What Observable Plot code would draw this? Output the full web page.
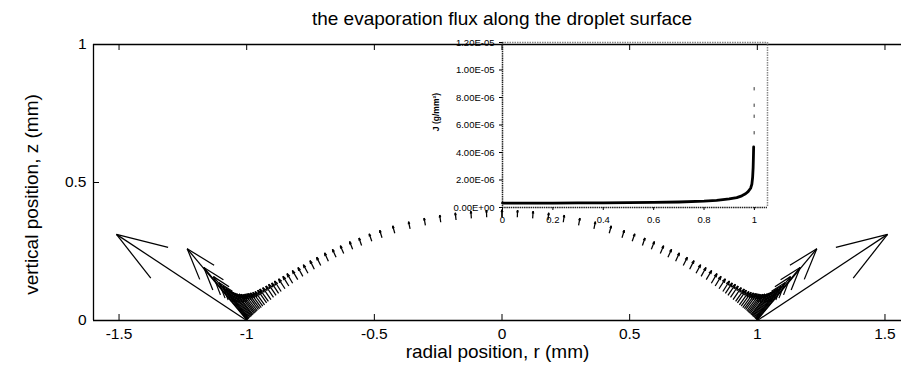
<!DOCTYPE html>
<html><head><meta charset="utf-8">
<script src="https://cdn.jsdelivr.net/npm/d3@7"></script>
<script src="https://cdn.jsdelivr.net/npm/@observablehq/plot@0.6"></script>
<style>
body{margin:0;background:#fff;}
#wrap{position:relative;width:901px;height:370px;overflow:hidden;}
</style></head><body><div id="wrap"></div>
<script>
// ---- text ----
const title = "the evaporation flux along the droplet surface";
const xLabel = "radial position, r (mm)";
const yLabel = "vertical position, z (mm)";
const xTicks = [-1.5, -1, -0.5, 0, 0.5, 1, 1.5];
const yTicks = [0, 0.5, 1];

// ---- flux arrows on the droplet surface, right half (the left half is its mirror image) ----
const arrowR = [0, 0.06, 0.12, 0.18, 0.24, 0.30, 0.36, 0.42, 0.47, 0.51, 0.55, 0.585, 0.62, 0.65, 0.68, 0.71,
  0.735, 0.76, 0.78, 0.80, 0.82, 0.835, 0.85, 0.865, 0.875, 0.885, 0.895, 0.905, 0.915, 0.922, 0.93, 0.937,
  0.943, 0.949, 0.954, 0.959, 0.963, 0.967, 0.971, 0.975, 0.978, 0.981, 0.984, 0.987, 0.99, 0.992, 0.994, 0.996,
  0.998, 0.999, 1.0];
const arrowZ = [0.375, 0.374, 0.370, 0.364, 0.356, 0.345, 0.332, 0.316, 0.300, 0.287, 0.272, 0.258, 0.243, 0.229, 0.215, 0.199,
  0.186, 0.171, 0.160, 0.148, 0.135, 0.125, 0.115, 0.105, 0.098, 0.091, 0.084, 0.076, 0.069, 0.064, 0.057, 0.052,
  0.047, 0.043, 0.039, 0.035, 0.031, 0.028, 0.025, 0.021, 0.019, 0.016, 0.014, 0.011, 0.009, 0.007, 0.005, 0.003,
  0.002, 0.001, 0.000];
const arrowU = [0, 0.001, 0.002, 0.003, 0.004, 0.005, 0.006, 0.008, 0.009, 0.010, 0.010, 0.012, 0.013, 0.014, 0.015, 0.016,
  0.017, 0.018, 0.019, 0.021, 0.022, 0.023, 0.025, 0.026, 0.027, 0.029, 0.030, 0.032, 0.034, 0.035, 0.037, 0.039,
  0.042, 0.044, 0.046, 0.049, 0.052, 0.055, 0.059, 0.063, 0.067, 0.072, 0.077, 0.083, 0.091, 0.101, 0.114, 0.134,
  0.170, 0.234, 0.510];
const arrowV = [0.026, 0.026, 0.026, 0.026, 0.026, 0.026, 0.026, 0.027, 0.027, 0.027, 0.027, 0.028, 0.028, 0.029, 0.030, 0.030,
  0.031, 0.031, 0.032, 0.033, 0.035, 0.035, 0.036, 0.038, 0.038, 0.040, 0.041, 0.043, 0.045, 0.046, 0.048, 0.050,
  0.053, 0.055, 0.058, 0.061, 0.063, 0.067, 0.071, 0.075, 0.080, 0.085, 0.091, 0.097, 0.106, 0.117, 0.132, 0.156,
  0.190, 0.259, 0.312];

// ---- inset: evaporation flux J vs r ----
const insetR = [0, 0.1, 0.2, 0.3, 0.4, 0.5, 0.6, 0.7, 0.8, 0.85, 0.9, 0.93, 0.95, 0.965, 0.975, 0.985, 0.99, 0.993, 0.995, 0.996, 0.997];
const insetJ = [3.2e-7, 3.2e-7, 3.2e-7, 3.3e-7, 3.3e-7, 3.5e-7, 3.7e-7, 4.0e-7, 4.6e-7, 5.2e-7, 6.2e-7, 7.2e-7, 8.5e-7, 1.0e-6, 1.15e-6, 1.4e-6, 1.7e-6, 2.2e-6, 2.9e-6, 3.6e-6, 4.4e-6];
const insetTipR = [0.999, 0.999, 0.999, 0.999];
const insetTipJ = [5.4e-6, 6.6e-6, 7.4e-6, 8.6e-6];
const insetXTicks = [0, 0.2, 0.4, 0.6, 0.8, 1];
const insetYTicks = [0, 2e-6, 4e-6, 6e-6, 8e-6, 1e-5, 1.2e-5];
const insetYLabel = "J (g/mm\u00B2)";

// ---- build quiver segments (MATLAB-style heads) ----
const headA = 0.33, headB = 0.33;
const segs = [];
for (const s of [-1, 1]) {
  arrowR.forEach((r, i) => {
    const x = s * r, y = arrowZ[i], u = s * arrowU[i], v = arrowV[i];
    const x2 = x + u, y2 = y + v;
    segs.push({x1: x, y1: y, x2, y2});
    segs.push({x1: x2, y1: y2, x2: x2 - headA * (u + headB * v), y2: y2 - headA * (v - headB * u)});
    segs.push({x1: x2, y1: y2, x2: x2 - headA * (u - headB * v), y2: y2 - headA * (v + headB * u)});
  });
}

const font = "'Liberation Sans', Arial, Helvetica, sans-serif";
const xDom = [-1.6, 1.6];
const xRange = [93, 910];
const tickLenY = 6 / 276, tickLenX = 6 / ((xRange[1] - xRange[0]) / (xDom[1] - xDom[0]));

const main = Plot.plot({
  width: 901, height: 370,
  marginLeft: 93, marginRight: 0, marginTop: 44, marginBottom: 50,
  style: {fontFamily: font, background: "white", color: "black"},
  x: {domain: xDom, range: xRange},
  y: {domain: [0, 1]},
  marks: [
    Plot.link(segs, {x1: "x1", y1: "y1", x2: "x2", y2: "y2", stroke: "black", strokeWidth: 1.25}),
    Plot.ruleY([0, 1], {stroke: "black", strokeWidth: 1.3}),
    Plot.ruleX([xDom[0]], {stroke: "black", strokeWidth: 1.3}),
    Plot.ruleX(xTicks, {y1: 0, y2: tickLenY, stroke: "black"}),
    Plot.ruleX(xTicks, {y1: 1, y2: 1 - tickLenY, stroke: "black"}),
    Plot.ruleY(yTicks, {x1: xDom[0], x2: xDom[0] + tickLenX, stroke: "black"}),
    Plot.axisX({ticks: xTicks, tickSize: 0, tickPadding: 7, tickFormat: d => String(d), label: null, fontSize: 15.5}),
    Plot.axisY({ticks: yTicks, tickSize: 0, tickPadding: 7, tickFormat: d => String(d), label: null, fontSize: 15.5}),
    Plot.text([title], {x: 0, y: 1, dy: -26, fontSize: 19, fill: "black"}),
    Plot.text([xLabel], {frameAnchor: "bottom", dy: 37, fontSize: 19, fill: "black"}),
    Plot.text([yLabel], {frameAnchor: "left", textAnchor: "middle", dx: -62, dy: 12, rotate: -90, fontSize: 19, fill: "black"})
  ]
});

function sci(d) {
  const [m, e] = d.toExponential(2).split("e");
  const n = Math.abs(+e);
  return m + "E" + (+e < 0 ? "-" : "+") + (n < 10 ? "0" : "") + n;
}

const insetLine = insetR.map((r, i) => ({r, J: insetJ[i]}));
const insetTips = insetTipR.map((r, i) => ({r, J: insetTipJ[i]}));
const ixDom = [0, 1.052], iyDom = [0, 1.2e-5];

const inset = Plot.plot({
  width: 380, height: 205,
  marginLeft: 102, marginRight: 13, marginTop: 12, marginBottom: 28,
  style: {fontFamily: font, background: "transparent", color: "black"},
  x: {domain: ixDom},
  y: {domain: iyDom},
  marks: [
    Plot.ruleY([iyDom[1]], {stroke: "#888", strokeWidth: 1.5, strokeDasharray: "1.5,1"}),
    Plot.ruleX([ixDom[1]], {stroke: "#888", strokeWidth: 1.5, strokeDasharray: "1.5,1"}),
    Plot.ruleY([0], {stroke: "#222", strokeWidth: 1.5, strokeDasharray: "1.5,0.7"}),
    Plot.ruleX([0], {stroke: "#222", strokeWidth: 1.5, strokeDasharray: "1.5,0.7"}),
    Plot.line(insetLine, {x: "r", y: "J", stroke: "black", strokeWidth: 2.8}),
    Plot.ruleX(insetTips, {x: "r", y1: d => d.J - 1.2e-7, y2: d => d.J + 1.2e-7, stroke: "#333", strokeWidth: 1}),
    Plot.axisX({ticks: insetXTicks, tickSize: 3, tickPadding: 6, tickFormat: d => String(d), label: null, fontSize: 9.5}),
    Plot.axisY({ticks: insetYTicks, tickSize: 3, tickPadding: 5, tickFormat: sci, label: null, fontSize: 9.5}),
    Plot.text([insetYLabel], {frameAnchor: "left", textAnchor: "middle", dx: -66, dy: -13, rotate: -90, fontSize: 8.5, fontWeight: "bold", fill: "black"})
  ]
});
inset.style.position = "absolute";
inset.style.left = "400px";
inset.style.top = "30px";
inset.style.background = "transparent";

const wrap = document.getElementById("wrap");
wrap.appendChild(main);
wrap.appendChild(inset);
</script>
</body></html>
